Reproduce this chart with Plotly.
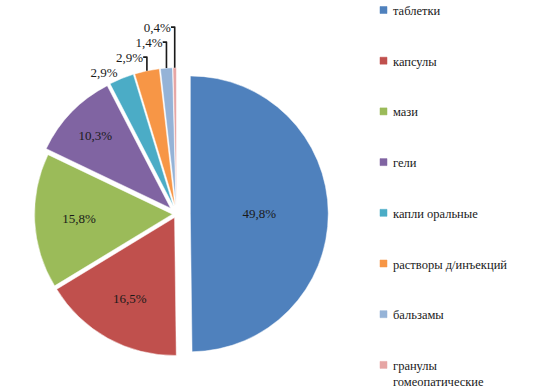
import plotly.graph_objects as go

categories = ["таблетки", "капсулы", "мази", "гели", "капли оральные",
              "растворы д/инъекций", "бальзамы", "гранулы гомеопатические"]
values = [49.8, 16.5, 15.8, 10.3, 2.9, 2.9, 1.4, 0.4]
colors = ["#4F81BD", "#C0504D", "#9BBB59", "#8064A2", "#4BACC6",
          "#F79646", "#95B3D7", "#E6A5A4"]

texts = [f"{v:.1f}".replace(".", ",") + "%" for v in values]

FONT = "Liberation Serif, Times New Roman, serif"
W, H = 535, 389

fig = go.Figure(go.Pie(
    labels=categories,
    values=values,
    text=texts,
    textinfo="text",
    textposition=["inside"] * 4 + ["outside"] * 4,
    insidetextorientation="horizontal",
    sort=False,
    direction="clockwise",
    rotation=0,
    pull=[0.1, 0.03, 0.03, 0.06, 0.06, 0.06, 0.06, 0.06],
    marker=dict(colors=colors, line=dict(color="white", width=0.5)),
    textfont=dict(family=FONT, size=13, color="#1a1a1a"),
    outsidetextfont=dict(family=FONT, size=13, color="#1a1a1a"),
    hoverinfo="label+text",
    domain=dict(x=[0.0, 0.66], y=[0.06, 0.84]),
))

# Legend drawn as text + square markers (Excel-style widely spaced entries)
legend_x = 380      # px, marker left
legend_y0 = 10      # px, first entry centre
legend_step = 50.7  # px between entries
shapes, annotations = [], []
for i, (name, col) in enumerate(zip(categories, colors)):
    yc = legend_y0 + i * legend_step
    shapes.append(dict(type="rect", xref="paper", yref="paper",
                       x0=legend_x / W, x1=(legend_x + 7) / W,
                       y0=1 - (yc + 3.5) / H, y1=1 - (yc - 3.5) / H,
                       fillcolor=col, line=dict(color=col, width=0.5)))
    label = name.replace(" ", "<br>", 1) if len(name) > 20 else name
    annotations.append(dict(xref="paper", yref="paper",
                            x=(legend_x + 11) / W, y=1 - (yc - 8) / H,
                            xanchor="left", yanchor="top", align="left",
                            text=label, showarrow=False,
                            font=dict(family=FONT, size=12.5, color="#1a1a1a")))

fig.update_layout(
    width=W, height=H,
    margin=dict(l=0, r=0, t=0, b=0, pad=0, autoexpand=False),
    paper_bgcolor="white",
    plot_bgcolor="white",
    font=dict(family=FONT, size=12, color="#1a1a1a"),
    showlegend=False,
    shapes=shapes,
    annotations=annotations,
)

fig.write_html("out.html",
               config={"displayModeBar": False},
               post_script="document.body.style.margin='0px';")
